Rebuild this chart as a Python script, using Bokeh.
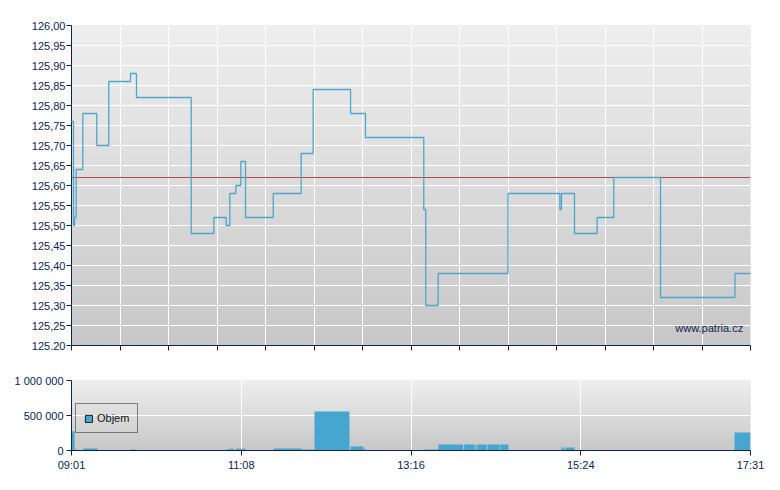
import numpy as np
from bokeh.plotting import figure
from bokeh.layouts import column
from bokeh.models import Range1d, FixedTicker, Span, Label, Legend, LegendItem
from bokeh.embed import file_html
from bokeh.resources import INLINE

# ---- data (time = minutes after 09:01) ----
trade_min = [0, 1.5, 2.3, 3.5, 8.5, 19.0, 28.0, 44.3, 48.8, 89.9, 106.9, 116.2, 118.9,
             123.4, 127.2, 130.7, 151.5, 172.5, 181.5, 209.6, 220.8, 264.6, 266.1, 275.4,
             327.8, 366.8, 368.0, 377.8, 394.8, 407.3, 442.4, 498.3, 510.0]
trade_price = [125.76, 125.50, 125.52, 125.64, 125.78, 125.70, 125.86, 125.88, 125.82,
               125.48, 125.52, 125.50, 125.58, 125.60, 125.66, 125.52, 125.58, 125.68,
               125.84, 125.78, 125.72, 125.54, 125.30, 125.38, 125.58, 125.54, 125.58,
               125.48, 125.52, 125.62, 125.32, 125.38, 125.38]
ref_price = 125.62

vol_start = [0, 2.3, 9.0, 44.3, 116.4, 119.4, 123.2, 151.9, 172.7, 182.5, 209.6, 219.8,
             265.1, 275.6, 294.9, 303.7, 304.9, 312.5, 322.0, 368.0, 369.5, 371.3, 498.0]
vol_end = [2.3, 3.8, 19.5, 48.1, 119.4, 121.5, 130.7, 172.7, 182.0, 208.8, 219.3, 220.8,
           275.6, 294.2, 303.2, 304.4, 311.9, 321.5, 328.2, 369.0, 370.8, 377.8, 510.0]
vol = [276000, 14000, 28000, 14000, 19000, 28000, 24000, 28000, 14000, 557000, 57000,
       28000, 14000, 86000, 86000, 86000, 86000, 86000, 86000, 43000, 43000, 43000, 257000]

price_ticks = [125.20, 125.25, 125.30, 125.35, 125.40, 125.45, 125.50, 125.55, 125.60,
               125.65, 125.70, 125.75, 125.80, 125.85, 125.90, 125.95, 126.00]
price_labels = ["125.20", "125,25", "125,30", "125,35", "125,40", "125,45", "125,50",
                "125,55", "125,60", "125,65", "125,70", "125,75", "125,80", "125,85",
                "125,90", "125,95", "126,00"]
vol_ticks = [0, 500000, 1000000]
vol_labels = ["0", "500 000", "1 000 000"]
time_ticks = [0, 127.5, 255, 382.5, 510]
time_labels = ["09:01", "11:08", "13:16", "15:24", "17:31"]

# ---- style ----
NAVY = "#0b2454"
LINE = "#4ea6cd"
BAR = "#46a6cf"
FONT = "Liberation Sans"

x_range = Range1d(0, 510)
minor_x = [i * 510 / 14 for i in range(15)]


def gradient(n, top=(239, 239, 239), bottom=(200, 200, 200)):
    img = np.empty((n, 1), dtype=np.uint32)
    v = img.view(dtype=np.uint8).reshape((n, 1, 4))
    t = np.linspace(0, 1, n)
    for c in range(3):
        v[:, 0, c] = (bottom[c] + (top[c] - bottom[c]) * t).astype(np.uint8)
    v[:, 0, 3] = 255
    return img


def style(p):
    p.outline_line_color = None
    p.background_fill_color = "#dddddd"
    p.border_fill_color = "white"
    for ax in (p.xaxis[0], p.yaxis[0]):
        ax.axis_line_color = NAVY
        ax.major_tick_line_color = NAVY
        ax.minor_tick_line_color = None
        ax.major_tick_out = 5
        ax.major_tick_in = 0
        ax.major_label_text_color = NAVY
        ax.major_label_text_font = FONT
        ax.major_label_text_font_size = "11px"
    p.xgrid.grid_line_color = "white"
    p.ygrid.grid_line_color = "white"
    p.xgrid.grid_line_width = 1
    p.ygrid.grid_line_width = 1


# ---- price panel ----
y1 = Range1d(price_ticks[0], price_ticks[-1])
p1 = figure(x_range=x_range, y_range=y1, frame_width=679, frame_height=320,
            min_border_left=71, min_border_right=18, min_border_top=25, min_border_bottom=28,
            output_backend="svg", toolbar_location=None)
style(p1)
p1.image_rgba(image=[gradient(320)], x=x_range.start, y=y1.start,
              dw=x_range.end - x_range.start, dh=y1.end - y1.start, level="image")
p1.xaxis.ticker = FixedTicker(ticks=minor_x)
p1.xaxis.major_label_overrides = {t: "" for t in minor_x}
p1.xgrid.ticker = FixedTicker(ticks=minor_x)
p1.yaxis.ticker = FixedTicker(ticks=price_ticks)
p1.ygrid.ticker = FixedTicker(ticks=price_ticks)
p1.yaxis.major_label_overrides = dict(zip(price_ticks, price_labels))
p1.yaxis.major_label_standoff = 1
p1.add_layout(Span(location=ref_price, dimension="width", line_color="#b84a45", line_width=1))
p1.step(trade_min, trade_price, mode="after", line_color=LINE, line_width=1.3, level="overlay")
p1.add_layout(Label(x=504.5, y=125.245, text="www.patria.cz", text_align="right",
                    text_baseline="alphabetic", text_color=NAVY, text_font=FONT,
                    text_font_size="11px"))

# ---- volume panel ----
y2 = Range1d(vol_ticks[0], vol_ticks[-1])
p2 = figure(x_range=x_range, y_range=y2, frame_width=679, frame_height=70,
            min_border_left=71, min_border_right=18, min_border_top=7, min_border_bottom=28,
            output_backend="svg", toolbar_location=None)
style(p2)
p2.image_rgba(image=[gradient(70)], x=x_range.start, y=y2.start,
              dw=x_range.end - x_range.start, dh=y2.end - y2.start, level="image")
p2.xaxis.ticker = FixedTicker(ticks=time_ticks)
p2.xgrid.ticker = FixedTicker(ticks=time_ticks)
p2.xaxis.major_label_overrides = dict(zip(time_ticks, time_labels))
p2.xaxis.major_label_standoff = 3
p2.yaxis.ticker = FixedTicker(ticks=vol_ticks)
p2.ygrid.ticker = FixedTicker(ticks=vol_ticks)
p2.yaxis.major_label_overrides = dict(zip(vol_ticks, vol_labels))
p2.yaxis.major_label_standoff = 3
p2.quad(left=vol_start, right=vol_end, bottom=0, top=vol, fill_color=BAR, line_color=None)
# legend key only (NaN row: nothing drawn in the plot area)
key = p2.quad(left=[np.nan], right=[np.nan], bottom=[np.nan], top=[np.nan],
              fill_color=BAR, line_color="#1a1a1a")
legend = Legend(items=[LegendItem(label="Objem", renderers=[key])], location=(4, 17),
                margin=0, padding=8, spacing=0, glyph_width=9, glyph_height=9,
                label_height=12, label_standoff=4, label_text_font=FONT,
                label_text_font_size="11px", label_text_color="#111111",
                border_line_color="#1a1a1a", border_line_width=1, background_fill_alpha=0)
p2.add_layout(legend)

layout = column(p1, p2)
open("out.html", "w").write(file_html(layout, INLINE))
